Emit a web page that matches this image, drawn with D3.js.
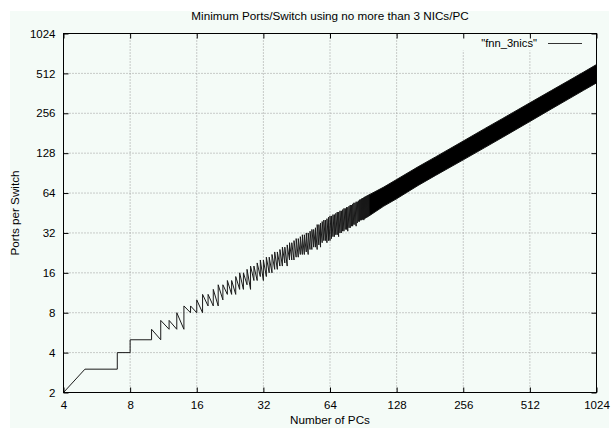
<!DOCTYPE html>
<html>
<head>
<meta charset="utf-8">
<script src="https://cdn.jsdelivr.net/npm/d3@7"></script>
<style>
  html, body { margin: 0; padding: 0; background: #ffffff; }
  svg { display: block; }
  text { font-family: "Liberation Sans", Arial, Helvetica, sans-serif; fill: #000; }
</style>
</head>
<body>
<svg id="chart" width="616" height="428"></svg>
<script>
// ---- data ----
const xTicks = [4, 8, 16, 32, 64, 128, 256, 512, 1024];
const yTicks = [2, 4, 8, 16, 32, 64, 128, 256, 512, 1024];

// initial staircase (PCs, ports) vertices
const stepPCs   = [4, 5, 7, 7, 8, 8, 10];
const stepPorts = [2, 3, 3, 4, 4, 5, 5];

// sawtooth: at each PC count the line rises from low to high, then falls to the next low
const zigPCs  = [10,11,12,13,14,15,16,17,18,19,20,21,22,23,24,25,26,27,28,29,30,31,32,33,34,35,36,37,
                 38,39,40,41,42,43,44,45,46,47,48,49,50,51,52,53,54,55,56,57,58,59,60,61,62,63,64,
                 65,66,67,68,69,70,71,72,73,74,75,76,77,78,79,80,81,82,83,84,85,86,87,88,89,90,
                 91,92,93,94,95,96];
const zigLow  = [5,5,6,6,6,8,8,8,9,9,9,10,11,11,11,12,12,13,12,14,14,15,14,15,16,16,17,17,
                 18,18,19,18,20,20,20,21,21,22,22,22,23,22,24,24,25,25,24,26,25,27,28,28,27,28,28,
                 29,30,30,31,31,30,32,32,33,33,34,34,33,35,35,36,36,37,37,36,38,39,39,40,40,41,
                 40,41,42,42,43,43];
const zigHigh = [6,7,7,8,9,9,10,11,11,12,13,13,14,14,15,16,16,17,18,18,19,20,20,21,21,22,23,23,
                 24,25,25,26,27,27,28,29,29,30,31,31,32,32,33,34,34,35,37,37,38,39,40,40,41,42,43,
                 43,44,44,45,46,46,47,47,48,49,49,50,50,51,52,52,53,54,54,55,55,56,57,57,58,58,
                 59,60,60,61,61,62];

// dense region: lower and upper envelope of the overlapping sawtooth
const bandPCs  = [88, 96, 112, 128, 160, 192, 256, 320, 384, 512, 640, 768, 896, 1024];
const bandLow  = [40, 43, 51, 58, 73, 87, 114, 141, 168, 222, 276, 329, 382, 434];
const bandHigh = [57, 62, 71, 81, 101, 120, 158, 196, 233, 307, 380, 452, 524, 597];

const titleText = "Minimum Ports/Switch using no more than 3 NICs/PC";
const xLabel = "Number of PCs";
const yLabel = "Ports per Switch";
const seriesName = "\"fnn_3nics\"";

// ---- drawing ----
const svg = d3.select("#chart");
const bg = "#f4fbf7";
svg.append("rect").attr("x", 10).attr("y", 11).attr("width", 599).attr("height", 417).attr("fill", bg);

const L = 63.5, R = 596.5, T = 33.5, B = 392.5;
const x = d3.scaleLog().base(2).domain([4, 1024]).range([L, R]);
const y = d3.scaleLog().base(2).domain([2, 1024]).range([B, T]);

// grid
const grid = svg.append("g").attr("stroke", "#9a9a9a").attr("stroke-width", 1).attr("stroke-dasharray", "1,2");
xTicks.slice(1, -1).forEach(t => {
  grid.append("line").attr("x1", x(t)).attr("x2", x(t)).attr("y1", B).attr("y2", T);
});
yTicks.slice(1, -1).forEach(t => {
  grid.append("line").attr("x1", L).attr("x2", R).attr("y1", y(t)).attr("y2", y(t));
});

// key area cleared
svg.append("rect").attr("x", 458).attr("y", T + 1).attr("width", R - 459).attr("height", 16).attr("fill", bg);

// data: dense band
const area = d3.area()
  .x((d, i) => x(bandPCs[i]))
  .y0((d, i) => y(bandLow[i]))
  .y1((d, i) => y(bandHigh[i]));
svg.append("path").datum(bandPCs).attr("d", area)
  .attr("fill", "#000").attr("stroke", "#111").attr("stroke-width", 1);

// data: staircase + sawtooth
const pts = stepPCs.map((p, i) => [p, stepPorts[i]]);
zigPCs.forEach((p, i) => { pts.push([p, zigLow[i]]); pts.push([p, zigHigh[i]]); });
const line = d3.line().x(d => x(d[0])).y(d => y(d[1]));
svg.append("path").datum(pts).attr("d", line)
  .attr("fill", "none").attr("stroke", "#1a1a1a").attr("stroke-width", 1).attr("stroke-linejoin", "miter");

// axes
const fmt = d3.format("d");
const axB = svg.append("g").attr("transform", `translate(0,${B})`)
  .call(d3.axisBottom(x).tickValues(xTicks).tickFormat(fmt).tickSizeInner(-5).tickSizeOuter(0).tickPadding(8));
const axL = svg.append("g").attr("transform", `translate(${L},0)`)
  .call(d3.axisLeft(y).tickValues(yTicks).tickFormat(fmt).tickSizeInner(-5).tickSizeOuter(0).tickPadding(8));
const axT = svg.append("g").attr("transform", `translate(0,${T})`)
  .call(d3.axisTop(x).tickValues(xTicks).tickFormat("").tickSizeInner(-5).tickSizeOuter(0));
const axR = svg.append("g").attr("transform", `translate(${R},0)`)
  .call(d3.axisRight(y).tickValues(yTicks).tickFormat("").tickSizeInner(-5).tickSizeOuter(0));
[axB, axL, axT, axR].forEach(g => {
  g.select(".domain").remove();
  g.selectAll(".tick line").attr("stroke", "#000").attr("stroke-width", 1);
  g.selectAll("text").attr("font-size", 11.5).attr("font-family", "\"Liberation Sans\", Arial, sans-serif").attr("fill", "#000");
});

// border
svg.append("rect").attr("x", L).attr("y", T).attr("width", R - L).attr("height", B - T)
  .attr("fill", "none").attr("stroke", "#000").attr("stroke-width", 1);

// title and labels
svg.append("text").attr("x", (L + R) / 2).attr("y", 19.5).attr("text-anchor", "middle")
  .attr("font-size", 11.7).text(titleText);
svg.append("text").attr("x", (L + R) / 2).attr("y", 424).attr("text-anchor", "middle")
  .attr("font-size", 11.7).text(xLabel);
svg.append("text").attr("transform", `translate(19,${(T + B) / 2}) rotate(-90)`).attr("text-anchor", "middle")
  .attr("font-size", 11.7).text(yLabel);

// legend
svg.append("text").attr("x", 537).attr("y", 47).attr("text-anchor", "end")
  .attr("font-size", 11.2).text(seriesName);
svg.append("line").attr("x1", 548).attr("x2", 582).attr("y1", 43.5).attr("y2", 43.5)
  .attr("stroke", "#333").attr("stroke-width", 1);
</script>
</body>
</html>
